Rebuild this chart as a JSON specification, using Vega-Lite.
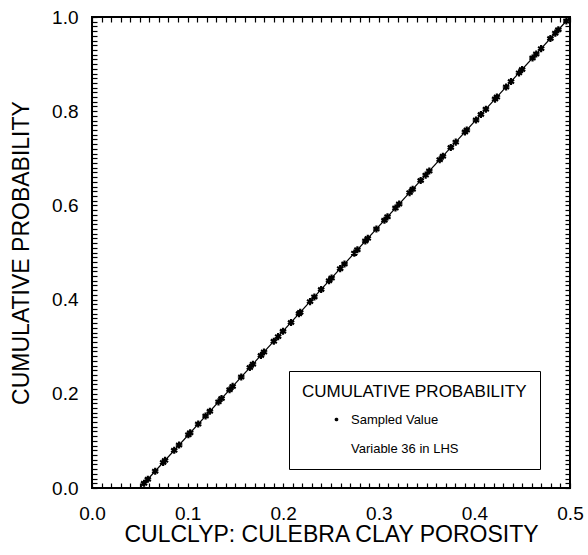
{
  "$schema": "https://vega.github.io/schema/vega-lite/v6.json",
  "width": 478,
  "height": 471,
  "autosize": {"type": "none"},
  "padding": {"left": 92, "top": 17, "right": 18, "bottom": 67},
  "background": "white",
  "config": {
    "view": {"stroke": "black", "strokeWidth": 2},
    "font": "Liberation Sans",
    "axis": {"domain": false, "grid": false, "labelColor": "black", "titleColor": "black", "tickColor": "black", "titleFontWeight": "normal"}
  },
  "datasets": {
    "samples": [
      {"x": 0.0545, "y": 0.0100, "series": "Sampled Value"},
      {"x": 0.0584, "y": 0.0186, "series": "Sampled Value"},
      {"x": 0.0661, "y": 0.0357, "series": "Sampled Value"},
      {"x": 0.0744, "y": 0.0543, "series": "Sampled Value"},
      {"x": 0.0764, "y": 0.0586, "series": "Sampled Value"},
      {"x": 0.0860, "y": 0.0800, "series": "Sampled Value"},
      {"x": 0.0911, "y": 0.0914, "series": "Sampled Value"},
      {"x": 0.1008, "y": 0.1129, "series": "Sampled Value"},
      {"x": 0.1027, "y": 0.1171, "series": "Sampled Value"},
      {"x": 0.1111, "y": 0.1357, "series": "Sampled Value"},
      {"x": 0.1188, "y": 0.1529, "series": "Sampled Value"},
      {"x": 0.1233, "y": 0.1629, "series": "Sampled Value"},
      {"x": 0.1323, "y": 0.1829, "series": "Sampled Value"},
      {"x": 0.1355, "y": 0.1900, "series": "Sampled Value"},
      {"x": 0.1439, "y": 0.2086, "series": "Sampled Value"},
      {"x": 0.1471, "y": 0.2157, "series": "Sampled Value"},
      {"x": 0.1561, "y": 0.2357, "series": "Sampled Value"},
      {"x": 0.1651, "y": 0.2557, "series": "Sampled Value"},
      {"x": 0.1683, "y": 0.2629, "series": "Sampled Value"},
      {"x": 0.1767, "y": 0.2814, "series": "Sampled Value"},
      {"x": 0.1799, "y": 0.2886, "series": "Sampled Value"},
      {"x": 0.1902, "y": 0.3114, "series": "Sampled Value"},
      {"x": 0.1947, "y": 0.3214, "series": "Sampled Value"},
      {"x": 0.1998, "y": 0.3329, "series": "Sampled Value"},
      {"x": 0.2082, "y": 0.3514, "series": "Sampled Value"},
      {"x": 0.2165, "y": 0.3700, "series": "Sampled Value"},
      {"x": 0.2178, "y": 0.3729, "series": "Sampled Value"},
      {"x": 0.2281, "y": 0.3957, "series": "Sampled Value"},
      {"x": 0.2326, "y": 0.4057, "series": "Sampled Value"},
      {"x": 0.2397, "y": 0.4214, "series": "Sampled Value"},
      {"x": 0.2480, "y": 0.4400, "series": "Sampled Value"},
      {"x": 0.2506, "y": 0.4457, "series": "Sampled Value"},
      {"x": 0.2596, "y": 0.4657, "series": "Sampled Value"},
      {"x": 0.2641, "y": 0.4757, "series": "Sampled Value"},
      {"x": 0.2744, "y": 0.4986, "series": "Sampled Value"},
      {"x": 0.2776, "y": 0.5057, "series": "Sampled Value"},
      {"x": 0.2859, "y": 0.5243, "series": "Sampled Value"},
      {"x": 0.2885, "y": 0.5300, "series": "Sampled Value"},
      {"x": 0.2975, "y": 0.5500, "series": "Sampled Value"},
      {"x": 0.3059, "y": 0.5686, "series": "Sampled Value"},
      {"x": 0.3091, "y": 0.5757, "series": "Sampled Value"},
      {"x": 0.3174, "y": 0.5943, "series": "Sampled Value"},
      {"x": 0.3213, "y": 0.6029, "series": "Sampled Value"},
      {"x": 0.3322, "y": 0.6271, "series": "Sampled Value"},
      {"x": 0.3354, "y": 0.6343, "series": "Sampled Value"},
      {"x": 0.3438, "y": 0.6529, "series": "Sampled Value"},
      {"x": 0.3490, "y": 0.6643, "series": "Sampled Value"},
      {"x": 0.3528, "y": 0.6729, "series": "Sampled Value"},
      {"x": 0.3637, "y": 0.6971, "series": "Sampled Value"},
      {"x": 0.3670, "y": 0.7043, "series": "Sampled Value"},
      {"x": 0.3753, "y": 0.7229, "series": "Sampled Value"},
      {"x": 0.3805, "y": 0.7343, "series": "Sampled Value"},
      {"x": 0.3901, "y": 0.7557, "series": "Sampled Value"},
      {"x": 0.3920, "y": 0.7600, "series": "Sampled Value"},
      {"x": 0.4017, "y": 0.7814, "series": "Sampled Value"},
      {"x": 0.4068, "y": 0.7929, "series": "Sampled Value"},
      {"x": 0.4120, "y": 0.8043, "series": "Sampled Value"},
      {"x": 0.4216, "y": 0.8257, "series": "Sampled Value"},
      {"x": 0.4235, "y": 0.8300, "series": "Sampled Value"},
      {"x": 0.4332, "y": 0.8514, "series": "Sampled Value"},
      {"x": 0.4383, "y": 0.8629, "series": "Sampled Value"},
      {"x": 0.4467, "y": 0.8814, "series": "Sampled Value"},
      {"x": 0.4499, "y": 0.8886, "series": "Sampled Value"},
      {"x": 0.4608, "y": 0.9129, "series": "Sampled Value"},
      {"x": 0.4647, "y": 0.9214, "series": "Sampled Value"},
      {"x": 0.4698, "y": 0.9329, "series": "Sampled Value"},
      {"x": 0.4795, "y": 0.9543, "series": "Sampled Value"},
      {"x": 0.4846, "y": 0.9657, "series": "Sampled Value"},
      {"x": 0.4878, "y": 0.9729, "series": "Sampled Value"},
      {"x": 0.4962, "y": 0.9914, "series": "Sampled Value"}
    ],
    "cdf": [
      {"x": 0.05, "y": 0},
      {"x": 0.5, "y": 1}
    ]
  },
  "resolve": {
    "scale": {"x": "independent", "y": "independent"},
    "axis": {"x": "independent", "y": "independent"}
  },
  "layer": [
    {
      "data": {"name": "cdf"},
      "mark": {"type": "line", "color": "black", "strokeWidth": 1.2},
      "encoding": {
        "x": {
          "field": "x", "type": "quantitative",
          "scale": {"domain": [0, 0.5], "nice": false, "zero": false},
          "axis": {
            "orient": "bottom",
            "values": [0,0.01,0.02,0.03,0.04,0.05,0.06,0.07,0.08,0.09,0.1,0.11,0.12,0.13,0.14,0.15,0.16,0.17,0.18,0.19,0.2,0.21,0.22,0.23,0.24,0.25,0.26,0.27,0.28,0.29,0.3,0.31,0.32,0.33,0.34,0.35,0.36,0.37,0.38,0.39,0.4,0.41,0.42,0.43,0.44,0.45,0.46,0.47,0.48,0.49,0.5],
            "labelExpr": "abs(datum.value*10 - round(datum.value*10)) < 0.001 ? format(datum.value, '.1f') : ''",
            "tickSize": -5, "tickWidth": 1.2, "labelPadding": 21, "labelFontSize": 19,
            "labelFlush": false, "labelOverlap": false,
            "title": "CULCLYP: CULEBRA CLAY POROSITY", "titleFontSize": 23, "titlePadding": 0, "titleLimit": 600
          }
        },
        "y": {
          "field": "y", "type": "quantitative",
          "scale": {"domain": [0, 1], "nice": false, "zero": false},
          "axis": {
            "orient": "left",
            "values": [0,0.01,0.02,0.03,0.04,0.05,0.06,0.07,0.08,0.09,0.1,0.11,0.12,0.13,0.14,0.15,0.16,0.17,0.18,0.19,0.2,0.21,0.22,0.23,0.24,0.25,0.26,0.27,0.28,0.29,0.3,0.31,0.32,0.33,0.34,0.35,0.36,0.37,0.38,0.39,0.4,0.41,0.42,0.43,0.44,0.45,0.46,0.47,0.48,0.49,0.5,0.51,0.52,0.53,0.54,0.55,0.56,0.57,0.58,0.59,0.6,0.61,0.62,0.63,0.64,0.65,0.66,0.67,0.68,0.69,0.7,0.71,0.72,0.73,0.74,0.75,0.76,0.77,0.78,0.79,0.8,0.81,0.82,0.83,0.84,0.85,0.86,0.87,0.88,0.89,0.9,0.91,0.92,0.93,0.94,0.95,0.96,0.97,0.98,0.99,1.0],
            "labelExpr": "abs(datum.value*5 - round(datum.value*5)) < 0.001 ? format(datum.value, '.1f') : ''",
            "tickSize": -5, "tickWidth": 1.2, "labelPadding": 19, "labelFontSize": 19,
            "labelFlush": false, "labelOverlap": false,
            "title": "CUMULATIVE PROBABILITY", "titleFontSize": 23, "titlePadding": 18, "titleLimit": 600
          }
        }
      }
    },
    {
      "data": {"name": "cdf"},
      "mark": {"type": "line", "opacity": 0},
      "encoding": {
        "x": {
          "field": "x", "type": "quantitative",
          "scale": {"domain": [0, 0.5], "nice": false, "zero": false},
          "axis": {
            "orient": "top", "title": null, "labelExpr": "''", "tickWidth": 1.2, "tickSize": -5,
            "labelOverlap": false,
            "values": [0,0.01,0.02,0.03,0.04,0.05,0.06,0.07,0.08,0.09,0.1,0.11,0.12,0.13,0.14,0.15,0.16,0.17,0.18,0.19,0.2,0.21,0.22,0.23,0.24,0.25,0.26,0.27,0.28,0.29,0.3,0.31,0.32,0.33,0.34,0.35,0.36,0.37,0.38,0.39,0.4,0.41,0.42,0.43,0.44,0.45,0.46,0.47,0.48,0.49,0.5]
          }
        },
        "y": {
          "field": "y", "type": "quantitative",
          "scale": {"domain": [0, 1], "nice": false, "zero": false},
          "axis": {
            "orient": "right", "title": null, "labelExpr": "''", "tickWidth": 1.2, "tickSize": -5,
            "labelOverlap": false,
            "values": [0,0.01,0.02,0.03,0.04,0.05,0.06,0.07,0.08,0.09,0.1,0.11,0.12,0.13,0.14,0.15,0.16,0.17,0.18,0.19,0.2,0.21,0.22,0.23,0.24,0.25,0.26,0.27,0.28,0.29,0.3,0.31,0.32,0.33,0.34,0.35,0.36,0.37,0.38,0.39,0.4,0.41,0.42,0.43,0.44,0.45,0.46,0.47,0.48,0.49,0.5,0.51,0.52,0.53,0.54,0.55,0.56,0.57,0.58,0.59,0.6,0.61,0.62,0.63,0.64,0.65,0.66,0.67,0.68,0.69,0.7,0.71,0.72,0.73,0.74,0.75,0.76,0.77,0.78,0.79,0.8,0.81,0.82,0.83,0.84,0.85,0.86,0.87,0.88,0.89,0.9,0.91,0.92,0.93,0.94,0.95,0.96,0.97,0.98,0.99,1.0]
          }
        }
      }
    },
    {
      "data": {"name": "samples"},
      "mark": {"type": "point", "filled": false, "strokeWidth": 2.2, "size": 50, "opacity": 1},
      "encoding": {
        "x": {
          "field": "x", "type": "quantitative",
          "scale": {"domain": [0, 0.5], "nice": false, "zero": false},
          "axis": null
        },
        "y": {
          "field": "y", "type": "quantitative",
          "scale": {"domain": [0, 1], "nice": false, "zero": false},
          "axis": null
        },
        "shape": {
          "field": "series", "type": "nominal",
          "scale": {
            "domain": ["Sampled Value", "Variable 36 in LHS"],
            "range": ["M0,-1L0,1M-0.87,-0.5L0.87,0.5M-0.87,0.5L0.87,-0.5", "M0,0Z"]
          },
          "legend": {
            "title": "CUMULATIVE PROBABILITY",
            "orient": "none", "legendX": 197, "legendY": 354,
            "direction": "vertical",
            "padding": 13, "strokeColor": "black", "fillColor": "white",
            "titleFontSize": 17, "titleFontWeight": "normal", "titleColor": "black", "titlePadding": 12, "titleLimit": 400,
            "labelFontSize": 13, "labelColor": "black", "labelOffset": 8, "labelLimit": 300,
            "symbolOffset": 28, "symbolSize": 14, "symbolStrokeWidth": 1.5, "symbolStrokeColor": "black",
            "rowPadding": 15,
            "encode": {
              "legend": {"update": {"strokeWidth": {"value": 1.5}}}
            }
          }
        },
        "color": {"value": "black"}
      }
    }
  ]
}
